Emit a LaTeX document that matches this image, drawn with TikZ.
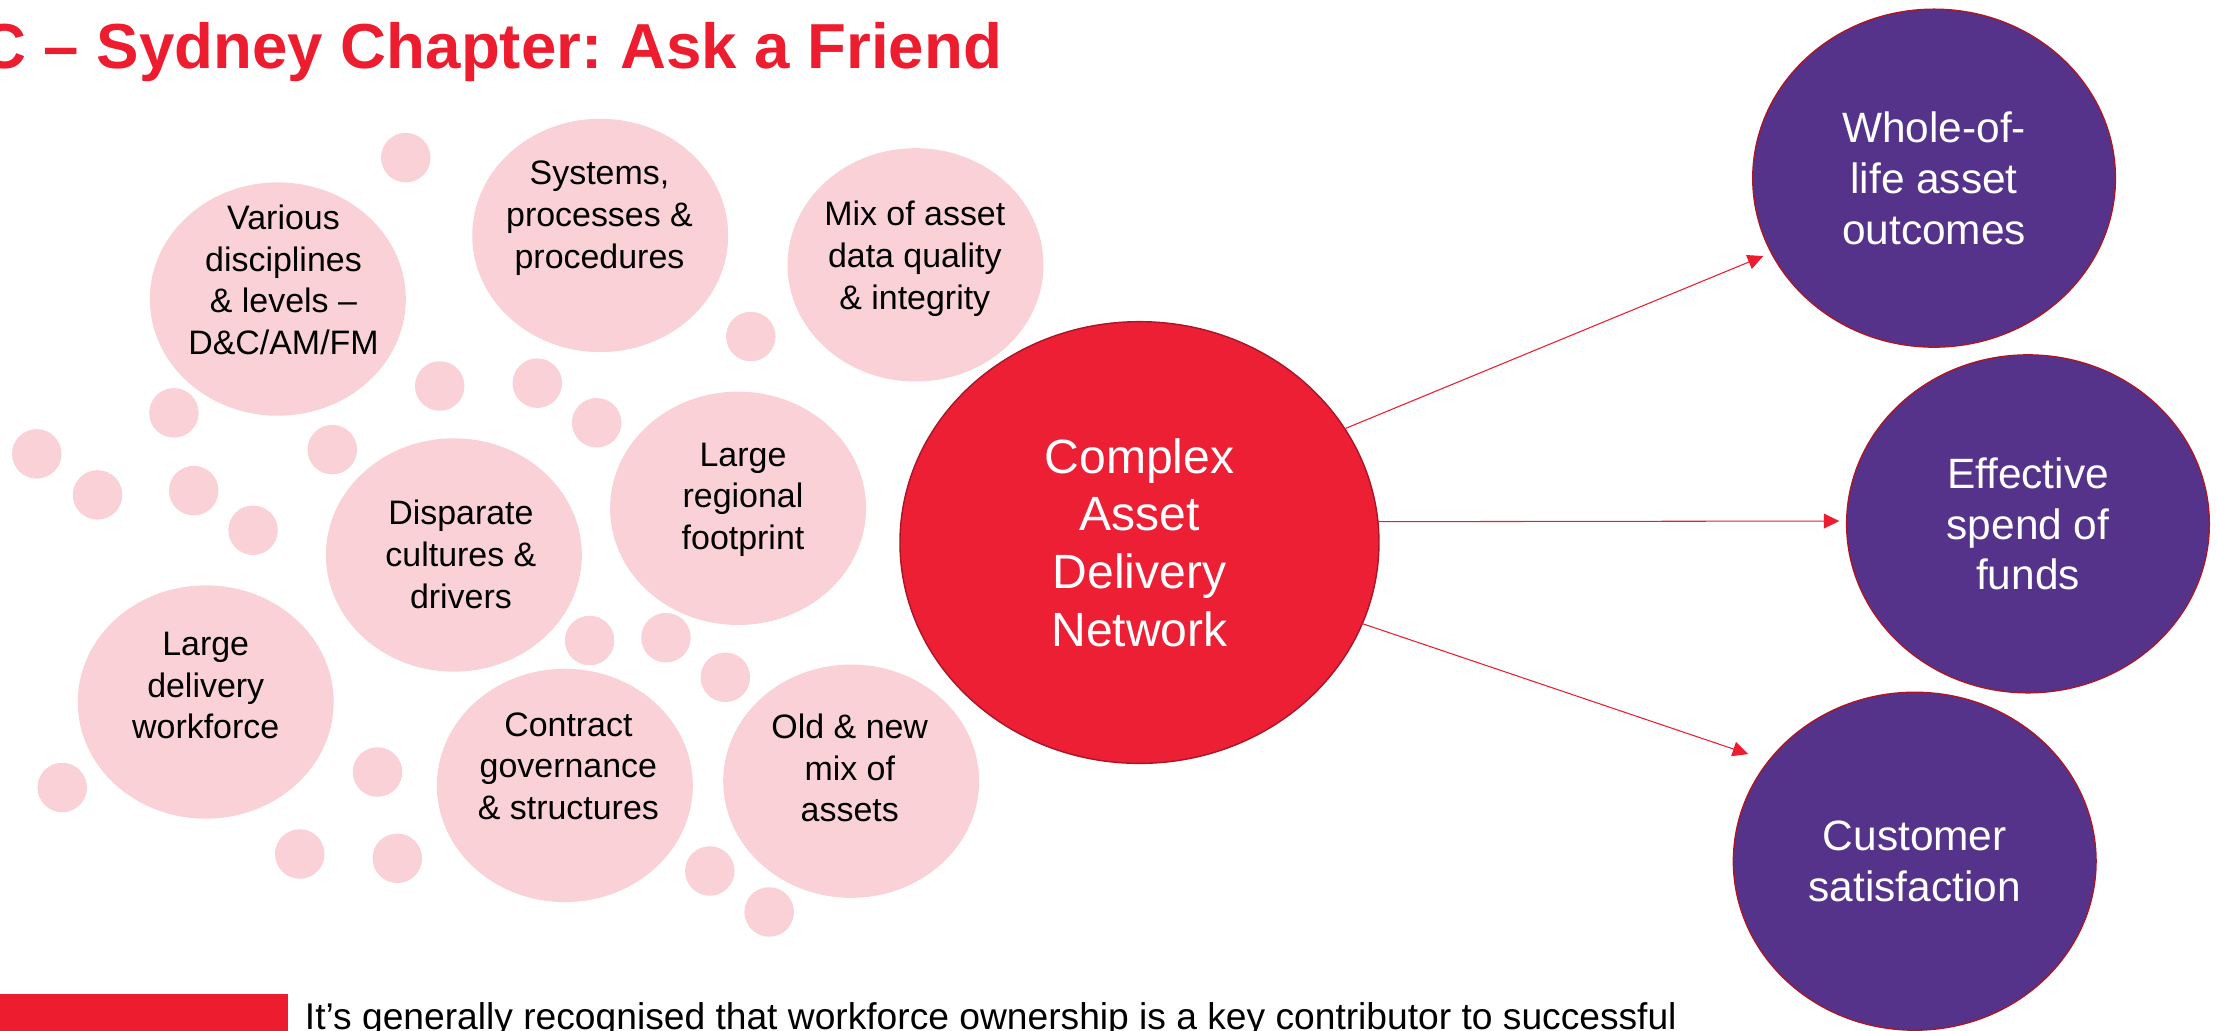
\documentclass[tikz,border=0pt]{standalone}
\usepackage{fontspec}
\setmainfont{Liberation Sans}
\usetikzlibrary{shapes.geometric,arrows.meta}
\definecolor{brandred}{RGB}{237,28,46}
\definecolor{ellred}{RGB}{236,31,52}
\definecolor{edgered}{RGB}{170,22,40}
\definecolor{purp}{RGB}{85,51,139}
\definecolor{pinkfill}{RGB}{249,209,214}
\frenchspacing
\begin{document}
\begin{tikzpicture}[x=1pt,y=-1pt,
  bigpink/.style={ellipse,fill=pinkfill,minimum width=181pt,minimum height=165pt,inner sep=0pt,outer sep=0pt},
  dot/.style={circle,fill=pinkfill,minimum size=35pt,inner sep=0pt},
  pinktext/.style={align=center,font=\fontsize{24}{29.5}\selectfont,text=black,inner sep=0pt},
  outcome/.style={ellipse,fill=purp,draw=edgered,line width=1pt,minimum width=256.5pt,minimum height=239pt,inner sep=0pt,outer sep=0pt,align=center,text=white,font=\fontsize{30}{36}\selectfont},
  hub/.style={ellipse,fill=ellred,draw=edgered,line width=1pt,minimum width=338.8pt,minimum height=312.4pt,inner sep=0pt,outer sep=0pt,align=center,text=white,font=\fontsize{34}{40.7}\selectfont},
  link/.style={draw=brandred,line width=0.75pt,-{Triangle[length=11pt,width=10.5pt]}}
]
\useasboundingbox (0,0) rectangle (1568,729);

% small dots
\node[dot] (d1) at (287,111.5) {};
\node[dot] (d2) at (531,238) {};
\node[dot] (d3) at (311,273) {};
\node[dot] (d4) at (380,271) {};
\node[dot] (d5) at (422,299) {};
\node[dot] (d6) at (123,292) {};
\node[dot] (d7) at (235,318) {};
\node[dot] (d8) at (26,321) {};
\node[dot] (d9) at (69,350) {};
\node[dot] (d10) at (137,347) {};
\node[dot] (d11) at (179,375) {};
\node[dot] (d12) at (417,453) {};
\node[dot] (d13) at (471,451) {};
\node[dot] (d14) at (513,479) {};
\node[dot] (d15) at (44,557) {};
\node[dot] (d16) at (267,546) {};
\node[dot] (d17) at (212,604) {};
\node[dot] (d18) at (281,607) {};
\node[dot] (d19) at (502,616) {};
\node[dot] (d20) at (544,645) {};

% big pink bubbles
\node[bigpink] (various) at (196.5,211.5) {};
\node[bigpink] (systems) at (424.5,166.5) {};
\node[bigpink] (mix) at (647.5,187.3) {};
\node[bigpink] (disparate) at (321,392.5) {};
\node[bigpink] (regional) at (522,359.5) {};
\node[bigpink] (delivery) at (145.5,496.5) {};
\node[bigpink] (contract) at (399.5,555.5) {};
\node[bigpink] (oldnew) at (602,552.5) {};

\node[pinktext] (various-t) at (200.5,198) {Various\\disciplines\\\& levels –\\D\&C/AM/FM};
\node[pinktext] (systems-t) at (424,154.3) {Systems,\\processes \&\\procedures};
\node[pinktext] (mix-t) at (647,182.9) {Mix of asset\\data quality\\\& integrity};
\node[pinktext] (disparate-t) at (326,392.2) {Disparate\\cultures \&\\drivers};
\node[pinktext] (regional-t) at (525.5,353.4) {Large\\regional\\footprint};
\node[pinktext] (delivery-t) at (145.5,484.9) {Large\\delivery\\workforce};
\node[pinktext] (contract-t) at (402,541.9) {Contract\\governance\\\& structures};
\node[pinktext] (oldnew-t) at (601,543.1) {Old \& new\\mix of\\assets};

% hub
\node[hub] (hub) at (805.9,383.7) {Complex\\Asset\\Delivery\\Network};

% outcomes
\node[outcome] (whole) at (1367.9,126) {Whole-of-\\life asset\\outcomes};
\node[outcome] (spend) at (1434.3,370.5) {Effective\\spend of\\funds};
\node[outcome] (customer) at (1354.2,609.1) {Customer\\satisfaction};

% arrows
\coordinate (t1) at (1247.1,181.1);
\coordinate (t2) at (1300.9,368.5);
\coordinate (t3) at (1236.5,533.3);
\draw[link] (hub.29.7) -- (t1);
\draw[link] (hub.5.2) -- (t2);
\draw[link] (hub.-20.5) -- (t3);

% title
\node[anchor=base east,inner sep=0pt,text=brandred,font=\fontsize{45}{54}\selectfont\bfseries] (title) at (708.9,48.3) {C – Sydney Chapter: Ask a Friend};

% bottom bar and note
\fill[brandred] (0,703) rectangle (203.7,729);
\node[anchor=base west,inner sep=0pt,text=black,font=\fontsize{26.3}{31}\selectfont] (note) at (215.5,728) {It’s generally recognised that workforce ownership is a key contributor to successful};
\end{tikzpicture}
\end{document}
